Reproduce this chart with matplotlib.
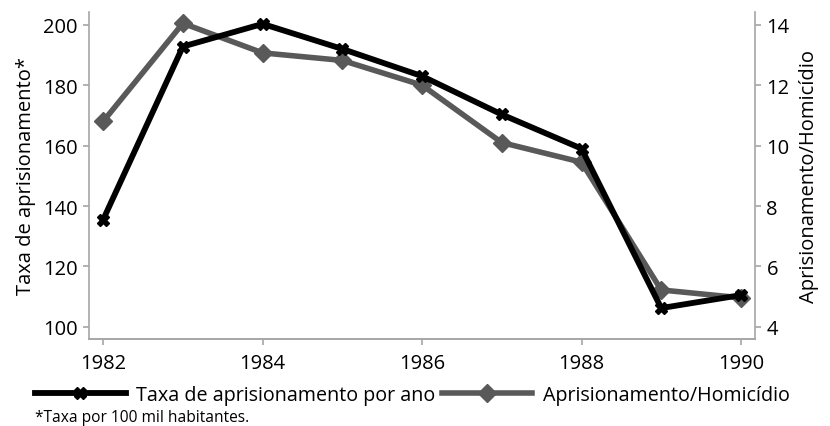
import matplotlib.pyplot as plt

plt.rcParams['font.family'] = ['Open Sans', 'DejaVu Sans']

anos = [1982, 1983, 1984, 1985, 1986, 1987, 1988, 1989, 1990]
taxa = [135.5, 192.8, 200.3, 192.0, 183.0, 170.3, 159.0, 106.2, 110.5]
apris_homicidio = [10.8, 14.05, 13.07, 12.82, 12.0, 10.1, 9.45, 5.22, 4.96]

fig = plt.figure(figsize=(8.3, 4.27), dpi=100)
ax = fig.add_axes([0.107, 0.204, 0.803, 0.766])
ax2 = ax.twinx()

cinza = '#a6a6a6'
l1, = ax.plot(anos, taxa, color='black', lw=4.2, marker='X', ms=9, zorder=3,
              label='Taxa de aprisionamento por ano')
l2, = ax2.plot(anos, apris_homicidio, color='#595959', lw=4, marker='D', ms=9,
               label='Aprisionamento/Homicídio')
ax.set_zorder(ax2.get_zorder() + 1)
ax.patch.set_visible(False)

ax.set_xlim(1981.82, 1990.18)
ax.set_ylim(96, 204.3)
ax2.set_ylim(3.6, 14.43)
ax.set_xticks([1982, 1984, 1986, 1988, 1990])
ax.set_yticks([100, 120, 140, 160, 180, 200])
ax2.set_yticks([4, 6, 8, 10, 12, 14])

for a in (ax, ax2):
    a.spines['top'].set_visible(False)
    for s in ('left', 'right', 'bottom'):
        a.spines[s].set_color(cinza)
        a.spines[s].set_linewidth(1.2)
    a.tick_params(colors=cinza, labelcolor='black', labelsize=14.5, length=4.5, width=1.2)
ax.tick_params(axis='x', pad=6)
ax.spines['right'].set_visible(False)
ax2.spines['left'].set_visible(False)

ax.set_ylabel('Taxa de aprisionamento*', fontsize=14.5, labelpad=5)
ax2.set_ylabel('Aprisionamento/Homicídio', fontsize=14.5, labelpad=7)

fig.legend(handles=[l1, l2], loc='center left', bbox_to_anchor=(0.042, 0.073), ncol=2,
           frameon=False, fontsize=14.2, handlelength=4.6, handletextpad=0.55,
           columnspacing=0.3, borderpad=0, borderaxespad=0)
fig.text(0.042, 0.021, '*Taxa por 100 mil habitantes.', fontsize=11.2, va='center')

fig.savefig('out.png', dpi=100)
